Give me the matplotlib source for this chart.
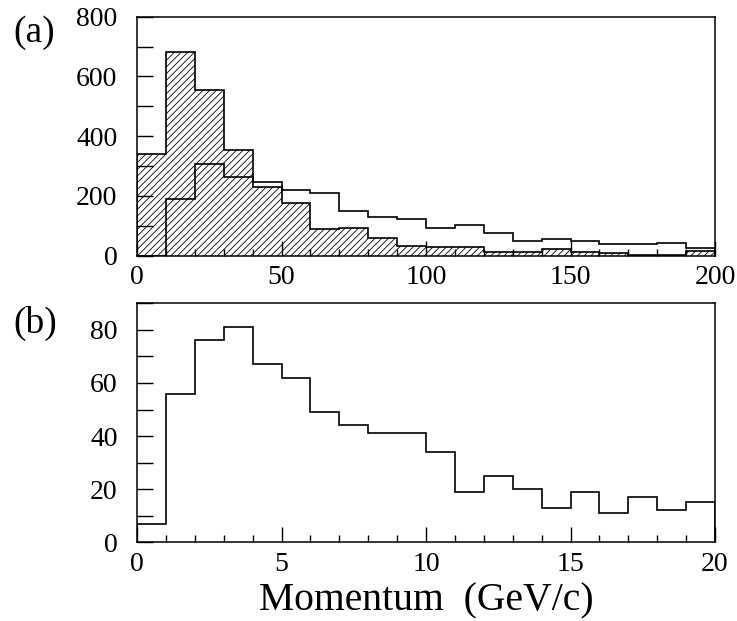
import numpy as np
import matplotlib
matplotlib.use("Agg")
import matplotlib.pyplot as plt
from matplotlib.ticker import MultipleLocator

plt.rcParams["font.family"] = ["Liberation Serif", "DejaVu Serif"]
plt.rcParams["hatch.linewidth"] = 0.6

# (a) momentum spectra, 10 GeV/c bins from 0 to 200
edges_a = np.arange(0, 210, 10)
hatched_a = [339, 683, 555, 353, 229, 177, 88, 92, 60, 32,
             30, 30, 13, 13, 21, 13, 9, 2, 2, 16]
open_a = [0, 189, 306, 263, 248, 220, 211, 150, 129, 123,
          94, 102, 77, 48, 56, 48, 39, 39, 41, 27]

# (b) low-momentum region, 1 GeV/c bins from 0 to 20
edges_b = np.arange(0, 21, 1)
counts_b = [7, 56, 76, 81, 67, 62, 49, 44, 41, 41,
            34, 19, 25, 20, 13, 19, 11, 17, 12, 15]

fig = plt.figure(figsize=(7.37, 6.21), dpi=100)
ax_a = fig.add_axes([0.1859, 0.5882, 0.7843, 0.3849])
ax_b = fig.add_axes([0.1859, 0.1267, 0.7843, 0.3849])

lw = 1.2
ax_a.stairs(hatched_a, edges_a, fill=True, facecolor="none",
            edgecolor="black", hatch="/////", linewidth=lw)
ax_a.stairs(open_a, edges_a, color="black", linewidth=lw)
ax_b.stairs(counts_b, edges_b, color="black", linewidth=lw)

ax_a.set_xlim(0, 200)
ax_a.set_ylim(0, 800)
ax_a.xaxis.set_major_locator(MultipleLocator(50))
ax_a.xaxis.set_minor_locator(MultipleLocator(10))
ax_a.yaxis.set_major_locator(MultipleLocator(200))
ax_a.yaxis.set_minor_locator(MultipleLocator(100))

ax_b.set_xlim(0, 20)
ax_b.set_ylim(0, 90)
ax_b.xaxis.set_major_locator(MultipleLocator(5))
ax_b.xaxis.set_minor_locator(MultipleLocator(1))
ax_b.yaxis.set_major_locator(MultipleLocator(20))
ax_b.yaxis.set_minor_locator(MultipleLocator(10))

for ax in (ax_a, ax_b):
    for sp in ax.spines.values():
        sp.set_linewidth(1.1)
    ax.tick_params(which="both", direction="in", top=False, right=False,
                   width=1.0, labelsize=20)
    ax.tick_params(axis="x", which="major", length=11, pad=7)
    ax.tick_params(axis="x", which="minor", length=5)
    ax.tick_params(axis="y", which="both", length=11.5, pad=14)

fig.text(13 / 737, 1 - 33 / 621, "(a)", fontsize=27, ha="left", va="center")
fig.text(13 / 737, 1 - 323 / 621, "(b)", fontsize=27, ha="left", va="center")
fig.text(426 / 737, 1 - 601 / 621, "Momentum  (GeV/c)", fontsize=28.5,
         ha="center", va="center")

fig.savefig("out.png", dpi=100)
